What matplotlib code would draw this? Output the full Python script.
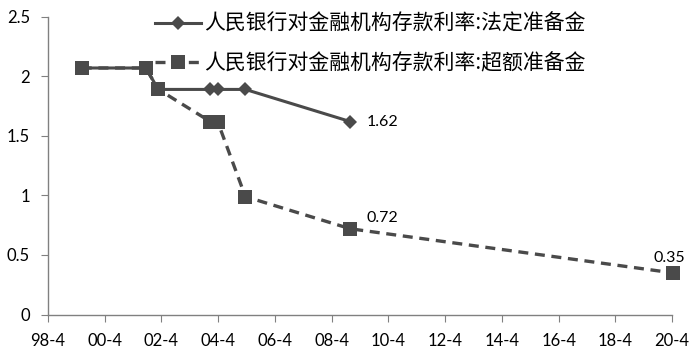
import pandas as pd
import matplotlib
matplotlib.use("Agg")
import matplotlib.pyplot as plt
import matplotlib.dates as mdates
from matplotlib.ticker import FuncFormatter

# data
legal_dates = ["1999-06-10", "2001-09-11", "2002-02-21", "2003-12-21",
               "2004-03-25", "2005-03-17", "2008-11-27"]
legal_rate = [2.07, 2.07, 1.89, 1.89, 1.89, 1.89, 1.62]

excess_dates = ["1999-06-10", "2001-09-11", "2002-02-21", "2003-12-21",
                "2004-03-25", "2005-03-17", "2008-11-27", "2020-04-07"]
excess_rate = [2.07, 2.07, 1.89, 1.62, 1.62, 0.99, 0.72, 0.35]

legal_name = "人民银行对金融机构存款利率:法定准备金"
excess_name = "人民银行对金融机构存款利率:超额准备金"

plt.rcParams["font.family"] = ["Lato", "Noto Sans CJK SC", "DejaVu Sans"]

col = "#4a4a4a"
fig = plt.figure(figsize=(6.95, 3.57), dpi=100)
ax = fig.add_axes([0.069, 0.119, 0.898, 0.834])

lx = pd.to_datetime(legal_dates)
ex = pd.to_datetime(excess_dates)

ax.plot(lx, legal_rate, color=col, lw=2.2, marker="D", ms=7.5, mew=0,
        label=legal_name, clip_on=False, zorder=2)
ax.plot(ex, excess_rate, color=col, lw=2.4, ls=(0, (3, 2)), marker="s", ms=9.5,
        mew=0, label=excess_name, clip_on=False, zorder=3)

# value labels on the last points
ax.annotate(f"{legal_rate[-1]:.2f}", (lx[-1], legal_rate[-1]), xytext=(12, 0),
            textcoords="offset points", va="center", ha="left", fontsize=11.5)
ax.annotate(f"{excess_rate[-2]:.2f}", (ex[-2], excess_rate[-2]), xytext=(12, 8),
            textcoords="offset points", va="center", ha="left", fontsize=11.5)
ax.annotate(f"{excess_rate[-1]:.2f}", (ex[-1], excess_rate[-1]), xytext=(-2, 11),
            textcoords="offset points", va="center", ha="center", fontsize=11.5)

ax.set_xlim(pd.Timestamp("1998-04-01"), pd.Timestamp("2020-04-01"))
ax.set_ylim(0, 2.5)
ax.set_yticks([0, 0.5, 1, 1.5, 2, 2.5])
ax.yaxis.set_major_formatter(FuncFormatter(lambda v, p: f"{v:g}"))

ax.xaxis.set_major_locator(mdates.YearLocator(base=2, month=4, day=1))
ax.xaxis.set_major_formatter(FuncFormatter(
    lambda v, p: f"{mdates.num2date(v).year % 100:02d}-{mdates.num2date(v).month}"))

for s in ["top", "right"]:
    ax.spines[s].set_visible(False)
for s in ["left", "bottom"]:
    ax.spines[s].set_color("#808080")
    ax.spines[s].set_linewidth(1)
ax.tick_params(axis="both", colors="#808080", labelcolor="black",
               labelsize=12, length=5, direction="out")
ax.tick_params(axis="x", pad=8)
ax.tick_params(axis="y", pad=8)

ax.legend(loc="upper left", bbox_to_anchor=(155 / 695, 1 - 13 / 357),
          bbox_transform=fig.transFigure, frameon=False,
          handlelength=2.2, handletextpad=0.15, labelspacing=0.85,
          borderpad=0, borderaxespad=0,
          prop={"family": ["Noto Sans CJK SC", "DejaVu Sans"], "size": 15})

fig.savefig("out.png", dpi=100)
